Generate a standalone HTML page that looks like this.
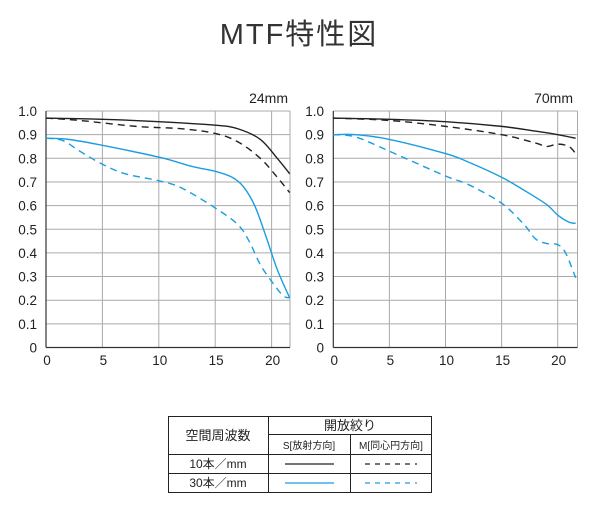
<!DOCTYPE html>
<html><head><meta charset="utf-8">
<style>
body{margin:0;background:#fff;width:602px;height:510px;overflow:hidden;font-family:"Liberation Sans","Noto Sans CJK JP",sans-serif;}
</style></head><body>
<svg id="s" width="602" height="510" xmlns="http://www.w3.org/2000/svg" font-family="Liberation Sans, Noto Sans CJK JP, sans-serif">
<text x="299" y="44" font-size="29" fill="#333" text-anchor="middle" letter-spacing="2">MTF特性図</text>
<g id="g"></g>
<!-- table -->
<g stroke="#222" stroke-width="1" fill="none">
<rect x="168.5" y="416.5" width="263" height="76"/>
<line x1="268.5" y1="416" x2="268.5" y2="492"/>
<line x1="268" y1="434.5" x2="431" y2="434.5"/>
<line x1="350.5" y1="434" x2="350.5" y2="492"/>
<line x1="168" y1="454.5" x2="431" y2="454.5"/>
<line x1="168" y1="473.5" x2="431" y2="473.5"/>
</g>
<g font-size="12" fill="#222">
<text x="218" y="440" text-anchor="middle" font-size="13">空間周波数</text>
<text x="350" y="430" text-anchor="middle" font-size="13">開放絞り</text>
<text x="309" y="449" text-anchor="middle" font-size="10">S[放射方向]</text>
<text x="391" y="449" text-anchor="middle" font-size="10">M[同心円方向]</text>
<text x="218" y="468" text-anchor="middle">10本／mm</text>
<text x="218" y="487" text-anchor="middle">30本／mm</text>
</g>
<line x1="285" y1="464" x2="334" y2="464" stroke="#222" stroke-width="1.2"/>
<line x1="365" y1="464" x2="417" y2="464" stroke="#222" stroke-width="1.2" stroke-dasharray="5,5"/>
<line x1="285" y1="483" x2="334" y2="483" stroke="#1a9ee0" stroke-width="1.2"/>
<line x1="365" y1="483" x2="417" y2="483" stroke="#1a9ee0" stroke-width="1.2" stroke-dasharray="5,5"/>
</svg>
<script>
var NS="http://www.w3.org/2000/svg",g=document.getElementById("g");
function el(t,a,txt){var e=document.createElementNS(NS,t);for(var k in a)e.setAttribute(k,a[k]);if(txt!=null)e.textContent=txt;g.appendChild(e);return e;}
var T=111,B=347.5;
function plot(x0,sx,right,ylx,title,titleX,curves){
  var X=function(u){return x0+sx*u},Y=function(v){return B-(B-T)*v};
  for(var i=1;i<=10;i++){el("line",{x1:x0,x2:right,y1:Y(i/10),y2:Y(i/10),stroke:"#aaa","stroke-width":1});}
  for(var j=5;j<=20;j+=5){el("line",{x1:X(j),x2:X(j),y1:T,y2:B,stroke:"#aaa","stroke-width":1});}
  el("line",{x1:right,x2:right,y1:T,y2:B,stroke:"#aaa","stroke-width":1});
  el("line",{x1:x0,x2:x0,y1:T,y2:B,stroke:"#333","stroke-width":1.2});
  el("line",{x1:x0,x2:right,y1:B,y2:B,stroke:"#333","stroke-width":1.2});
  for(var i=0;i<=10;i++){el("text",{x:ylx,y:Y(i/10)+5,"font-size":13.5,fill:"#222","text-anchor":"end"},i==0?"0":i==10?"1.0":"0."+i);}
  for(var j=0;j<=20;j+=5){el("text",{x:X(j)+1,y:365,"font-size":13.5,fill:"#222","text-anchor":"middle"},""+j);}
  el("text",{x:titleX,y:103,"font-size":14,fill:"#222","text-anchor":"end"},title);
  curves.forEach(function(c){
    var p=c.d.map(function(q){return [X(q[0]),Y(q[1])]});
    var d="M"+p[0][0]+","+p[0][1];
    for(var i=0;i<p.length-1;i++){
      var a=p[i-1]||p[i],b=p[i],cc=p[i+1],e=p[i+2]||cc;
      d+=" C"+(b[0]+(cc[0]-a[0])/6)+","+(b[1]+(cc[1]-a[1])/6)+" "+(cc[0]-(e[0]-b[0])/6)+","+(cc[1]-(e[1]-b[1])/6)+" "+cc[0]+","+cc[1];
    }
    var at={d:d,fill:"none",stroke:c.c,"stroke-width":1.4};
    if(c.dash)at["stroke-dasharray"]="7,5";
    el("path",at);
  });
}
var K="#222",Bl="#1a9ee0";
plot(46,11.28,290,37,"24mm",288,[
 {c:K,d:[[0,.97],[5,.965],[10,.955],[15,.94],[17,.925],[19,.88],[20.5,.80],[21.6,.735]]},
 {c:K,dash:1,d:[[0,.97],[3,.96],[8,.935],[12,.925],[15,.905],[17,.87],[19,.80],[20.5,.72],[21.6,.655]]},
 {c:Bl,d:[[0,.885],[2,.88],[5,.855],[10,.805],[13,.765],[15,.745],[16.5,.72],[17.5,.68],[18.5,.60],[19.5,.47],[20.5,.33],[21.6,.21]]},
 {c:Bl,dash:1,d:[[0,.885],[1.5,.875],[3,.83],[5,.775],[7,.735],[10,.705],[12,.675],[15,.59],[17,.52],[18,.45],[19,.35],[20,.28],[21,.22],[21.6,.21]]}
]);
plot(333.3,11.22,577.5,324,"70mm",573,[
 {c:K,d:[[0,.97],[5,.965],[10,.955],[15,.935],[18,.915],[20,.90],[21.6,.885]]},
 {c:K,dash:1,d:[[0,.97],[5,.96],[10,.935],[15,.90],[18,.865],[19,.85],[20,.86],[21,.85],[21.6,.82]]},
 {c:Bl,d:[[0,.90],[2,.90],[5,.88],[10,.82],[12,.785],[15,.72],[17,.665],[19,.605],[20,.56],[21,.53],[21.6,.525]]},
 {c:Bl,dash:1,d:[[0,.90],[2,.89],[5,.83],[10,.725],[12,.69],[15,.61],[17,.52],[18,.46],[19,.44],[20,.435],[20.7,.40],[21.6,.295]]}
]);
</script>
</body></html>
